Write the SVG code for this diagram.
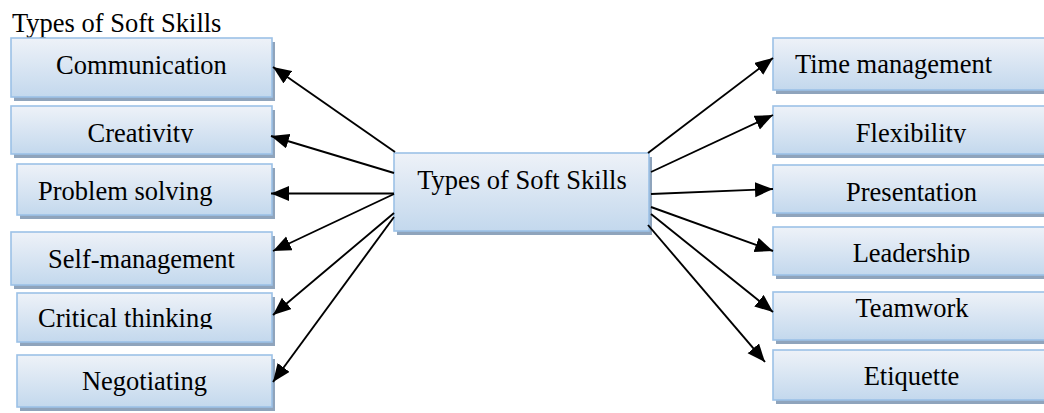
<svg xmlns="http://www.w3.org/2000/svg" width="1044" height="413" viewBox="0 0 1044 413" font-family="Liberation Serif, serif" font-size="26.5">
<style>
.box{fill:url(#g);stroke:#9cc1e6;stroke-width:1.6}
.sh{fill:#8fa4bc}
.c{text-anchor:middle}
.ln{stroke:#000;stroke-width:1.9;fill:none;marker-end:url(#ah)}
</style>
<defs>
<linearGradient id="g" x1="0" y1="0" x2="0" y2="1">
<stop offset="0" stop-color="#eef2f8"/>
<stop offset="1" stop-color="#c3d8ed"/>
</linearGradient>
<marker id="ah" markerUnits="userSpaceOnUse" markerWidth="20" markerHeight="16" refX="18" refY="7.5" orient="auto">
<path d="M0,0 L18,7.5 L0,15 Z" fill="#000"/>
</marker>
<clipPath id="cCre"><rect x="0" y="100" width="300" height="43"/></clipPath>
<clipPath id="cCrit"><rect x="0" y="290" width="300" height="39"/></clipPath>
<clipPath id="cFlex"><rect x="760" y="100" width="300" height="43"/></clipPath>
<clipPath id="cLead"><rect x="760" y="220" width="300" height="43"/></clipPath>
</defs>
<rect width="1044" height="413" fill="#fff"/>
<text x="12" y="32">Types of Soft Skills</text>

<g id="communication"><rect class="sh" x="14" y="42" width="261" height="59"/><rect class="box" x="11" y="38" width="261" height="59"/><text class="c" x="141.5" y="74">Communication</text></g>
<g id="creativity"><rect class="sh" x="14" y="110" width="261" height="48"/><rect class="box" x="11" y="106" width="261" height="48"/><text class="c" x="140.5" y="142" clip-path="url(#cCre)">Creativity</text></g>
<g id="problem-solving"><rect class="sh" x="20" y="168" width="255" height="51"/><rect class="box" x="17" y="164" width="255" height="51"/><text x="38" y="200">Problem solving</text></g>
<g id="self-management"><rect class="sh" x="14" y="236" width="261" height="53"/><rect class="box" x="11" y="232" width="261" height="53"/><text class="c" x="141.5" y="268">Self-management</text></g>
<g id="critical-thinking"><rect class="sh" x="20" y="297" width="255" height="49"/><rect class="box" x="17" y="293" width="255" height="49"/><text x="38" y="327" clip-path="url(#cCrit)">Critical thinking</text></g>
<g id="negotiating"><rect class="sh" x="20" y="359" width="255" height="52"/><rect class="box" x="17" y="355" width="255" height="52"/><text class="c" x="144.5" y="390">Negotiating</text></g>

<g id="center"><rect class="sh" x="397" y="157" width="255" height="78"/><rect class="box" x="394" y="153" width="255" height="78"/><text class="c" x="522" y="189">Types of Soft Skills</text></g>

<g id="time-management"><rect class="sh" x="776" y="42" width="280" height="52"/><rect class="box" x="773" y="38" width="280" height="52"/><text x="795" y="73">Time management</text></g>
<g id="flexibility"><rect class="sh" x="776" y="110" width="280" height="48"/><rect class="box" x="773" y="106" width="280" height="48"/><text class="c" x="911" y="142" clip-path="url(#cFlex)">Flexibility</text></g>
<g id="presentation"><rect class="sh" x="776" y="169" width="280" height="48"/><rect class="box" x="773" y="165" width="280" height="48"/><text class="c" x="911.5" y="201">Presentation</text></g>
<g id="leadership"><rect class="sh" x="776" y="231" width="280" height="48"/><rect class="box" x="773" y="227" width="280" height="48"/><text class="c" x="911.5" y="262" clip-path="url(#cLead)">Leadership</text></g>
<g id="teamwork"><rect class="sh" x="776" y="296" width="280" height="48"/><rect class="box" x="773" y="292" width="280" height="48"/><text class="c" x="912" y="317">Teamwork</text></g>
<g id="etiquette"><rect class="sh" x="776" y="354" width="280" height="50"/><rect class="box" x="773" y="350" width="280" height="50"/><text class="c" x="911.5" y="385">Etiquette</text></g>

<g id="connectors">
<line class="ln" x1="395" y1="152" x2="273" y2="67"/>
<line class="ln" x1="394" y1="173" x2="271" y2="136"/>
<line class="ln" x1="394" y1="193.5" x2="271" y2="193.5"/>
<line class="ln" x1="394" y1="194" x2="273" y2="251"/>
<line class="ln" x1="394" y1="213" x2="273" y2="315"/>
<line class="ln" x1="394" y1="217" x2="273" y2="382"/>
<line class="ln" x1="648" y1="153" x2="773" y2="58"/>
<line class="ln" x1="651" y1="172" x2="773" y2="115"/>
<line class="ln" x1="651" y1="194" x2="773" y2="189"/>
<line class="ln" x1="651" y1="207" x2="773" y2="251"/>
<line class="ln" x1="651" y1="214" x2="773" y2="312"/>
<line class="ln" x1="648" y1="225" x2="765" y2="362"/>
</g>
</svg>
